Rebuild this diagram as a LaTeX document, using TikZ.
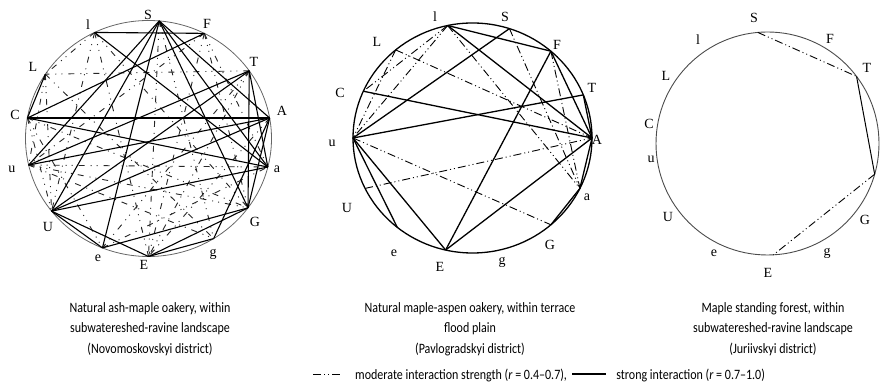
\documentclass[tikz,border=0pt]{standalone}
\usepackage{fontspec}
\setmainfont{Carlito}
\newfontfamily\capfont[FakeStretch=0.84]{Carlito}
\newfontfamily\lblfont{Liberation Serif}
\usetikzlibrary{calc}
\begin{document}
\begin{tikzpicture}[x=1pt,y=1pt,
  strong/.style={line width=1.3pt, black},
  moderate/.style={line width=0.9pt, black, dash pattern=on 8pt off 3pt on 1pt off 3pt on 1pt off 3pt},
  sparse/.style={line width=0.9pt, black!85, dash pattern=on 6pt off 6pt on 1pt off 5pt on 1pt off 6pt},
  lbl/.style={font=\lblfont\fontsize{14}{14}\selectfont, inner sep=0pt},
  captext/.style={font=\capfont\fontsize{14.3}{20.5}\selectfont, align=center, inner sep=0pt},
  legtext/.style={font=\capfont\fontsize{14.3}{14.3}\selectfont, inner sep=0pt, anchor=west}]
\useasboundingbox (0,0) rectangle (882,390);

% ---------------- circle 1 ----------------
\coordinate (o1) at (148.5,251.5);
\draw[black!60, line width=0.8pt] (o1) ellipse [x radius=123, y radius=118];
\foreach \n/\a in {S/85,l/116,F/63,L/147,T/35,C/170,A/10,u/193,a/346,U/218,G/324,e/248,E/270,g/302}
  \coordinate (p1\n) at ($(o1)+(\a:123pt and 118pt)$);
\foreach \n/\x/\y in {S/148/15,l/88/25,F/207/24,L/33/67,T/254/62,C/15/115,A/282/111,u/12/169,a/277/169,U/48/227,G/255/222,e/98/258,E/144/265,g/213/254}
  \node[lbl] (t1\n) at (\x,390-\y) {\n};
\foreach \p/\q in {u/a,l/L,l/U,l/E,L/u,L/U,L/g,C/U,C/e,C/G,S/E,S/g,F/E,F/a,F/G,T/e,T/E,A/E,u/G,u/g,e/a,l/G,F/u,T/L}
  \draw[sparse] (p1\p) -- (p1\q);
\foreach \p/\q in {l/F,l/a,S/u,S/U,S/e,S/A,S/a,S/G,C/A,C/F,C/a,C/L,u/T,u/A,U/T,U/A,U/a,U/e,U/E,e/G,E/g,E/G,T/a,T/G,A/g,A/G}
  \draw[strong, line width=1.1pt] (p1\p) -- (p1\q);

% ---------------- circle 2 ----------------
\coordinate (o2) at (472.5,252);
\draw[black, line width=1.3pt] (o2) ellipse [x radius=119.5, y radius=115];
\foreach \n/\a in {l/102,S/72,F/49,T/22,A/0,a/334,G/311,g/284,E/257,e/231,U/206,u/180,C/156,L/130}
  \coordinate (p2\n) at ($(o2)+(\a:119.5pt and 115pt)$);
\foreach \n/\x/\y in {l/435/17,S/505/17,F/557/45,T/592/88,A/597/140,a/587/197,G/550/245,g/502/262,E/440/267,e/394/253,U/347/208,u/332/143,C/340/93,L/377/42}
  \node[lbl] (t2\n) at (\x,390-\y) {\n};
\foreach \p/\q in {U/A,u/G,L/A,S/a,l/u,L/u,l/C,F/a,l/a}
  \draw[moderate] (p2\p) -- (p2\q);
\foreach \p/\q in {l/F,l/A,S/u,C/A,u/T,u/e,u/E,E/F,E/A,F/A,T/A,A/a,a/G}
  \draw[strong] (p2\p) -- (p2\q);

% ---------------- circle 3 ----------------
\coordinate (o3) at (767.5,246.5);
\draw[black!70, line width=0.9pt] (o3) circle [radius=111.5];
\foreach \n/\a in {S/95,T/37,a/344,E/273}
  \coordinate (p3\n) at ($(o3)+(\a:111.5pt)$);
\foreach \n/\x/\y in {S/754/18,l/698/40,F/830/39,T/867/68,L/666/76,C/649/124,u/651/159,U/668/217,e/714/253,E/768/273,g/827/253,G/865/220}
  \node[lbl] (t3\n) at (\x,390-\y) {\n};
\draw[moderate] (p3S) -- (p3T);
\draw[strong, line width=1pt] (p3T) -- (p3a);
\draw[moderate] (p3a) -- (p3E);

% ---------------- captions ----------------
\node[captext] (cap1) at (150,61) {Natural ash-maple oakery, within\\subwatereshed-ravine landscape\\(Novomoskovskyi district)};
\node[captext] (cap2) at (470,61) {Natural maple-aspen oakery, within terrace\\flood plain\\(Pavlogradskyi district)};
\node[captext] (cap3) at (773,61) {Maple standing forest, within\\subwatereshed-ravine landscape\\(Juriivskyi district)};

% ---------------- legend ----------------
\coordinate (lg1) at (313,16);
\coordinate (lg2) at (342,16);
\draw[moderate] (lg1) -- (lg2);
\node[legtext] (leg1) at (355,15) {moderate interaction strength (\textit{r} = 0.4–0.7),};
\coordinate (lg3) at ($(leg1.east)+(5,1)$);
\coordinate (lg4) at ($(lg3)+(34,0)$);
\draw[line width=2.6pt] (lg3) -- (lg4);
\node[legtext] (leg2) at ($(lg4)+(10,-1)$) {strong interaction (\textit{r} = 0.7–1.0)};
\end{tikzpicture}
\end{document}
